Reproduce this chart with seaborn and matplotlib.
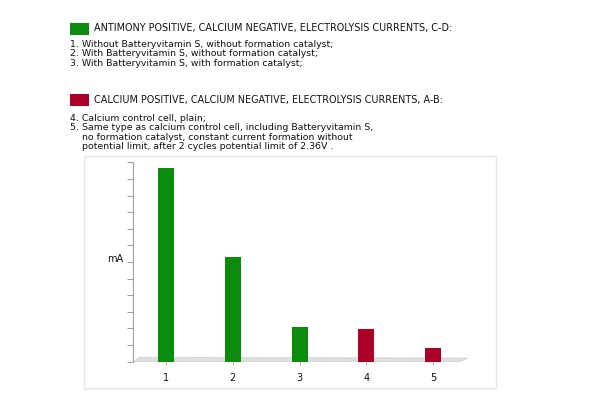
import matplotlib
matplotlib.use("Agg")
import matplotlib.pyplot as plt
from matplotlib.patches import Rectangle, Polygon
import seaborn as sns
import pandas as pd

# ---- data ----
categories = ["1", "2", "3", "4", "5"]
values = [11.64, 6.31, 2.10, 1.98, 0.80]
groups = ["C-D", "C-D", "C-D", "A-B", "A-B"]
group_colors = {"C-D": "#0c8c0c", "A-B": "#ac0028"}

green_header = "ANTIMONY POSITIVE, CALCIUM NEGATIVE, ELECTROLYSIS CURRENTS, C-D:"
green_lines = [
    "1. Without Batteryvitamin S, without formation catalyst;",
    "2. With Batteryvitamin S, without formation catalyst;",
    "3. With Batteryvitamin S, with formation catalyst;",
]
red_header = "CALCIUM POSITIVE, CALCIUM NEGATIVE, ELECTROLYSIS CURRENTS, A-B:"
red_lines = [
    "4. Calcium control cell, plain;",
    "5. Same type as calcium control cell, including Batteryvitamin S,",
    "    no formation catalyst, constant current formation without",
    "    potential limit, after 2 cycles potential limit of 2.36V .",
]
y_label = "mA"

sns.set_theme(style="white")
plt.rcParams["font.family"] = ["DejaVu Sans"]

W, H = 600, 400
fig = plt.figure(figsize=(6, 4), dpi=100)

def fx(px):
    return px / W

def fy(py):
    return 1 - py / H

# chart box (behind axes)
fig.patches.append(Rectangle((fx(84), fy(388)), fx(496) - fx(84), fy(156) - fy(388),
                             transform=fig.transFigure, facecolor="white",
                             edgecolor="#e6e6e6", lw=1.0, zorder=-5))
fig.patches.append(Rectangle((fx(84), fy(390)), fx(496) - fx(84), fy(388) - fy(390),
                             transform=fig.transFigure, facecolor="#ececec",
                             edgecolor="none", zorder=-5))

ax = fig.add_axes([fx(133.3), fy(361.7), fx(468) - fx(133.3), fy(162.3) - fy(361.7)])
ax.set_zorder(2)
ax.set_facecolor("none")

df = pd.DataFrame({"cat": categories, "val": values, "grp": groups})
palette = [group_colors[g] for g in groups]
sns.barplot(data=df, x="cat", y="val", hue="cat", palette=palette, legend=False,
            saturation=1, width=0.24, ax=ax, edgecolor="none", zorder=3)

# 3D floor
floor = Polygon([[-0.49, 0.0], [4.40, 0.0], [4.52, 0.22], [-0.40, 0.27]],
                closed=True, facecolor="#dedede", edgecolor="#d0d0d0", lw=0.5, zorder=2)
ax.add_patch(floor)

ax.set_xlim(-0.49, 4.52)
ax.set_ylim(0, 12)
ax.set_yticks(range(0, 13))
ax.set_yticklabels([])
for s in ["top", "right", "bottom"]:
    ax.spines[s].set_visible(False)
ax.spines["left"].set_color("#a0a0a0")
ax.spines["left"].set_linewidth(0.8)
ax.tick_params(axis="y", left=True, length=4, width=0.8, color="#a0a0a0")
ax.tick_params(axis="x", bottom=True, length=2, width=0.6, color="#a0a0a0",
               labelsize=7, pad=6, labelcolor="#111111")
ax.set_xlabel("")
ax.set_ylabel(y_label, rotation=0, fontsize=7, color="#111111", va="center")
ax.yaxis.set_label_coords(-0.055, 0.515)

# legend / description text
fig.patches.append(Rectangle((fx(70), fy(34.5)), fx(18.5), fy(23) - fy(34.5),
                             transform=fig.transFigure, facecolor=group_colors["C-D"],
                             edgecolor="none"))
fig.patches.append(Rectangle((fx(70), fy(105.7)), fx(18.5), fy(93.7) - fy(105.7),
                             transform=fig.transFigure, facecolor=group_colors["A-B"],
                             edgecolor="none"))
fs_h = 6.9
fs = 6.75
fig.text(fx(94), fy(28.5), green_header, fontsize=fs_h, va="center", ha="left", color="#111111")
for i, line in enumerate(green_lines):
    fig.text(fx(70.5), fy(44.5 + 9.5 * i), line, fontsize=fs, va="center", ha="left", color="#111111")
fig.text(fx(94), fy(100), red_header, fontsize=fs_h, va="center", ha="left", color="#111111")
for i, line in enumerate(red_lines):
    fig.text(fx(70.5), fy(118.5 + 9.4 * i), line, fontsize=fs, va="center", ha="left", color="#111111")

fig.savefig("out.png", dpi=100)
